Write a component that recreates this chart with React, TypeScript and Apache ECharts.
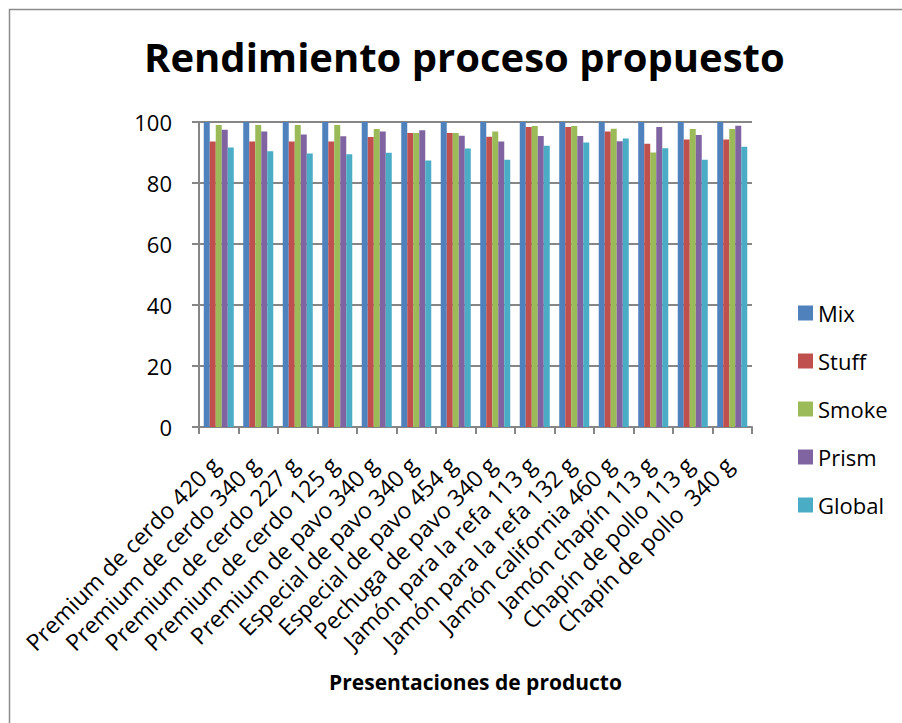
import React, { useEffect, useRef } from "react";
import * as echarts from "echarts";

const categories = [
  "Premium de cerdo 420 g",
  "Premium de cerdo 340 g",
  "Premium de cerdo 227 g",
  "Premium de cerdo 125 g",
  "Premium de pavo 340 g",
  "Especial de pavo 340 g",
  "Especial de pavo 454 g",
  "Pechuga de pavo 340 g",
  "Jamón para la refa 113 g",
  "Jamón para la refa 132 g",
  "Jamón california 460 g",
  "Jamón chapín 113 g",
  "Chapín de pollo 113 g",
  "Chapín de pollo  340 g",
];

const mix = [100, 100, 100, 100, 100, 100, 100, 100, 100, 100, 100, 100, 100, 100];
const stuff = [93.6, 93.6, 93.6, 93.6, 95.1, 96.4, 96.4, 95.2, 98.4, 98.4, 96.9, 92.9, 94.3, 94.3];
const smoke = [99.0, 99.0, 99.0, 99.0, 97.7, 96.4, 96.4, 96.9, 98.7, 98.7, 97.8, 90.0, 97.7, 97.7];
const prism = [97.5, 96.9, 95.9, 95.3, 96.9, 97.3, 95.5, 93.6, 95.4, 95.4, 93.7, 98.4, 95.7, 98.8];
const global = [91.6, 90.4, 89.7, 89.4, 89.9, 87.4, 91.3, 87.6, 92.2, 93.3, 94.6, 91.4, 87.6, 91.9];

const seriesNames = ["Mix", "Stuff", "Smoke", "Prism", "Global"];
const seriesData = [mix, stuff, smoke, prism, global];
const colors = ["#4F81BD", "#C0504D", "#9BBB59", "#8064A2", "#4BACC6"];
const yTicks = [0, 20, 40, 60, 80, 100];

const FONT = "'Open Sans', 'Noto Sans', sans-serif";

export default function App() {
  const ref = useRef<HTMLDivElement>(null);
  useEffect(() => {
    if (!ref.current) return;
    const chart = echarts.init(ref.current, null, { renderer: "svg" });
    chart.setOption({
      animation: false,
      backgroundColor: "#ffffff",
      textStyle: { fontFamily: FONT },
      title: {
        text: "Rendimiento proceso propuesto",
        left: 139,
        top: 31,
        textStyle: { fontFamily: FONT, fontWeight: "bold", fontSize: 40, color: "#000" },
      },
      graphic: [
        {
          type: "rect",
          shape: { x: 9.5, y: 9.5, width: 1000, height: 1000 },
          style: { fill: "none", stroke: "#8c8c8c", lineWidth: 1.5 },
          silent: true,
        },
      ],
      legend: {
        orient: "vertical",
        left: 793,
        top: 297,
        itemWidth: 15,
        itemHeight: 15,
        itemGap: 26,
        icon: "rect",
        textStyle: { fontFamily: FONT, fontSize: 22, color: "#000", padding: [0, 0, 0, 0] },
        data: seriesNames,
      },
      grid: { left: 199, right: 150, top: 122, bottom: 296, containLabel: false },
      xAxis: {
        type: "category",
        data: categories,
        name: "Presentaciones de producto",
        nameLocation: "middle",
        nameGap: 244,
        nameTextStyle: { fontFamily: FONT, fontWeight: "bold", fontSize: 21, color: "#000" },
        axisLine: { lineStyle: { color: "#868686", width: 2 } },
        axisTick: { show: true, length: 7, lineStyle: { color: "#868686", width: 2 } },
        axisLabel: {
          rotate: 45,
          interval: 0,
          fontFamily: FONT,
          fontSize: 23,
          color: "#000",
          margin: 30,
          padding: [0, 5, 0, 0],
        },
      },
      yAxis: {
        type: "value",
        min: 0,
        max: 100,
        interval: 20,
        axisLine: { show: true, lineStyle: { color: "#868686", width: 2 } },
        axisTick: { show: true, length: 7, lineStyle: { color: "#868686", width: 2 } },
        splitLine: { show: true, lineStyle: { color: "#868686", width: 2 } },
        axisLabel: {
          fontFamily: FONT,
          fontSize: 22,
          color: "#000",
          margin: 27,
          formatter: (v: number) => (yTicks.includes(v) ? String(v) : ""),
        },
      },
      series: seriesNames.map((name, i) => ({
        name,
        type: "bar",
        data: seriesData[i],
        itemStyle: { color: colors[i] },
        barGap: "0%",
        barCategoryGap: "24%",
      })),
    });
    return () => chart.dispose();
  }, []);
  return (
    <div
      ref={ref}
      style={{ position: "fixed", left: 0, top: 0, width: 902, height: 723 }}
    />
  );
}
